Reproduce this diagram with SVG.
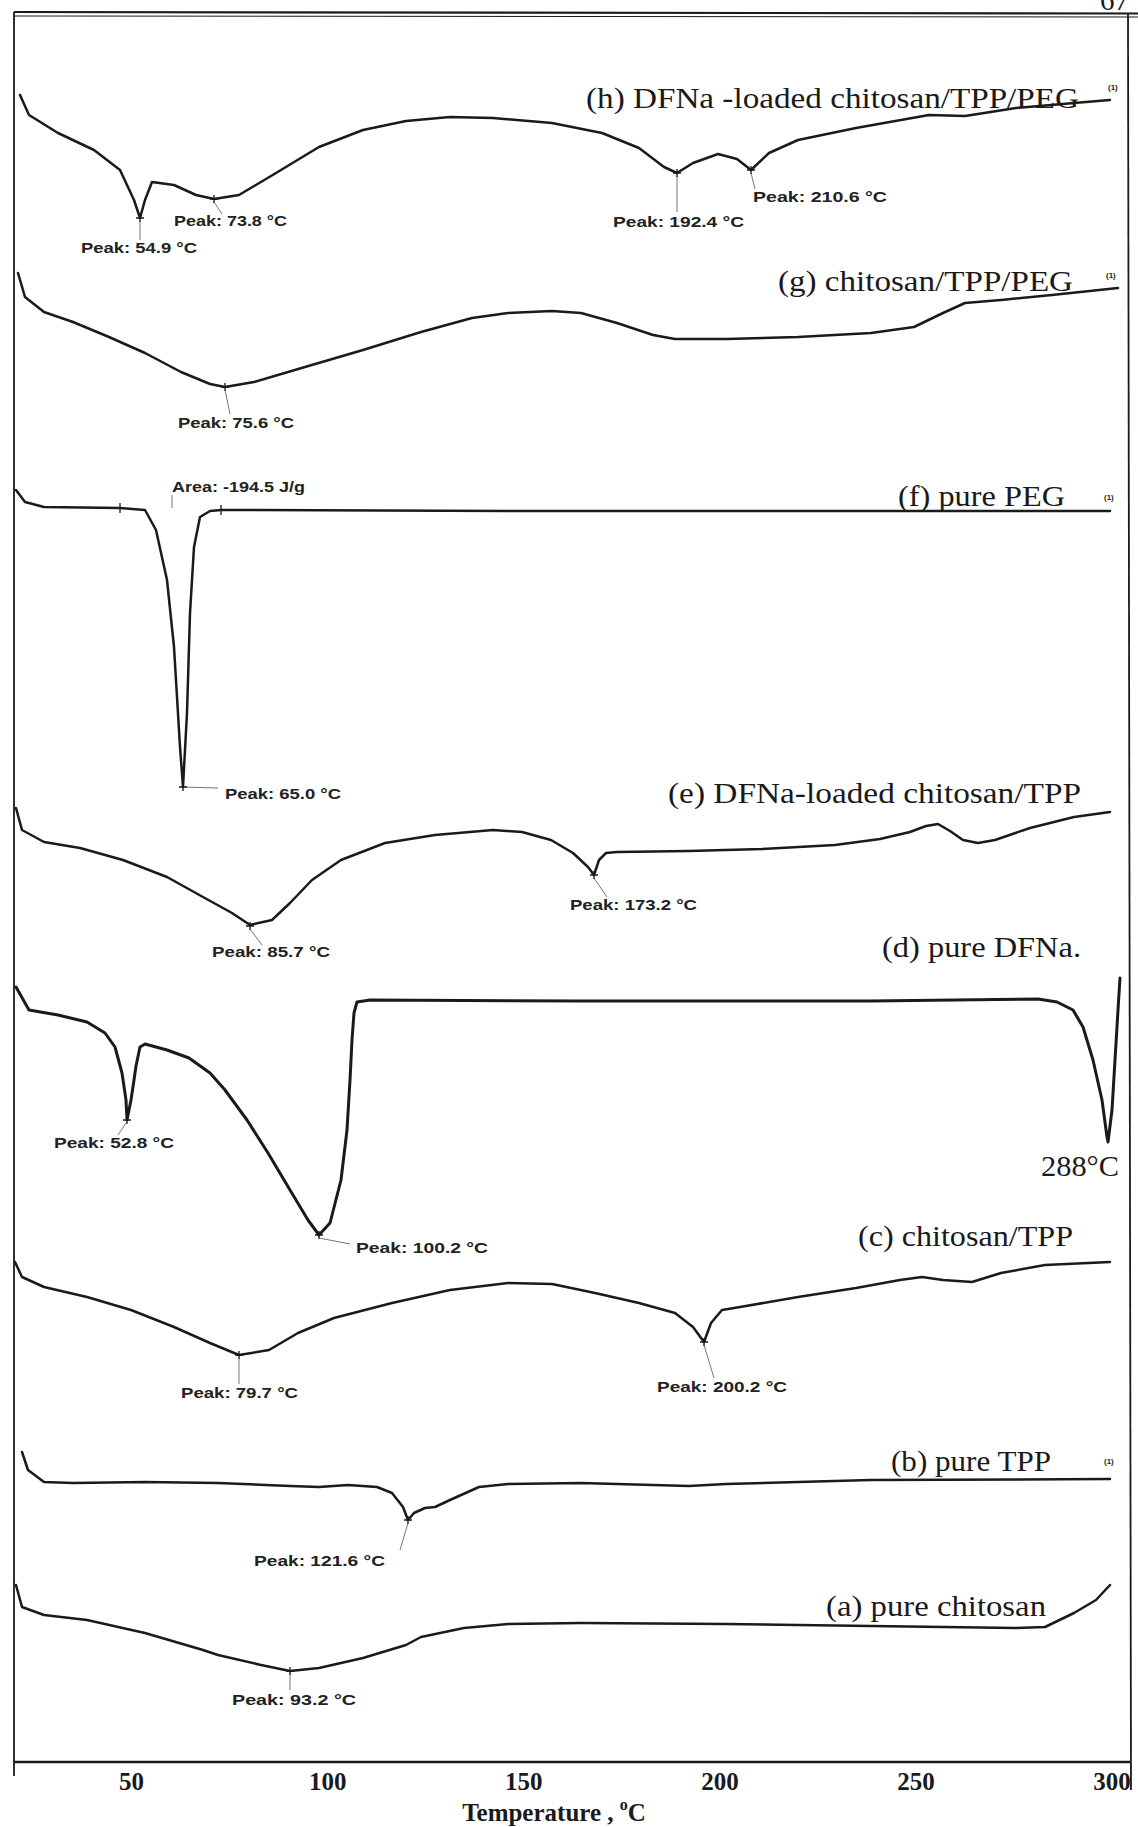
<svg xmlns="http://www.w3.org/2000/svg" width="1138" height="1827" viewBox="0 0 1138 1827">
<style>
.curve{fill:none;stroke:#1a1a1a;stroke-width:2.5;stroke-linejoin:round;stroke-linecap:round}
.thick{stroke-width:3}
.frame{stroke:#1a1a1a;fill:none}
.lead{stroke:#666;stroke-width:0.9;fill:none}
.mk{stroke:#1a1a1a;stroke-width:1.3;fill:none}
.pk{font-family:"Liberation Sans",Arial,sans-serif;font-weight:bold;font-size:14.5px;fill:#222}
.lab{font-family:"Liberation Serif","Times New Roman",serif;font-size:29px;fill:#1a1a1a}
.one{font-family:"Liberation Sans",Arial,sans-serif;font-weight:bold;font-size:8px;fill:#222}
.ax{font-family:"Liberation Serif","Times New Roman",serif;font-weight:bold;font-size:25px;fill:#1a1a1a}
</style>
<rect width="1138" height="1827" fill="#ffffff"/>
<text x="1100" y="10" class="lab" font-size="30">67</text>
<g id="frame">
<line class="frame" x1="14" y1="12" x2="1138" y2="13.5" stroke-width="2.2"/>
<line class="frame" x1="14" y1="16" x2="1138" y2="17" stroke-width="1"/>
<line class="frame" x1="14" y1="12" x2="14" y2="1776" stroke-width="1.8"/>
<line class="frame" x1="1128" y1="13" x2="1131" y2="1790" stroke-width="1.8"/>
<line class="frame" x1="14" y1="1762" x2="1131" y2="1762" stroke-width="2.6"/>
</g>
<g id="axis-labels">
<text class="ax" x="131.6" y="1790" text-anchor="middle">50</text>
<text class="ax" x="327.7" y="1790" text-anchor="middle">100</text>
<text class="ax" x="523.8" y="1790" text-anchor="middle">150</text>
<text class="ax" x="719.9" y="1790" text-anchor="middle">200</text>
<text class="ax" x="916" y="1790" text-anchor="middle">250</text>
<text class="ax" x="1112" y="1790" text-anchor="middle">300</text>
<text class="ax" x="554" y="1821" text-anchor="middle" font-size="27">Temperature , <tspan font-size="16" dy="-11">o</tspan><tspan dy="11">C</tspan></text>
</g>
<g id="connectors">
<line class="lead" x1="140" y1="221" x2="140" y2="240"/>
<line class="lead" x1="214" y1="202" x2="222" y2="214"/>
<line class="lead" x1="677" y1="176" x2="677" y2="212"/>
<line class="lead" x1="751" y1="173" x2="755" y2="189"/>
<line class="lead" x1="225" y1="390" x2="230" y2="414"/>
<line class="lead" x1="172" y1="495" x2="172" y2="508"/>
<line class="lead" x1="183" y1="787" x2="218" y2="788"/>
<line class="lead" x1="250" y1="929" x2="262" y2="945"/>
<line class="lead" x1="594" y1="878" x2="607" y2="897"/>
<line class="lead" x1="126" y1="1123" x2="118" y2="1135"/>
<line class="lead" x1="319" y1="1238" x2="350" y2="1244"/>
<line class="lead" x1="239" y1="1358" x2="239" y2="1384"/>
<line class="lead" x1="704" y1="1345" x2="714" y2="1378"/>
<line class="lead" x1="408" y1="1523" x2="400" y2="1550"/>
<line class="lead" x1="290" y1="1674" x2="290" y2="1690"/>
</g>
<g id="curve-h">
<path class="curve" d="M20,95 L29,115 L58,133 L94,150 L120,170 L134,200 L140,218 L145,200 L152,182 L174,185 L196,195 L214,199 L239,195 L276,173 L319,147 L363,130 L406,121 L450,117 L493,118 L552,123 L602,133 L639,148 L664,167 L677,173 L693,163 L718,154 L737,159 L751,170 L769,153 L798,140 L856,128 L929,115 L965,116 L1016,108 L1074,103 L1110,100"/>
<path class="mk" d="M136,218h8M140,214v8 M210,199h8M214,195v8 M673,173h8M677,169v8 M747,170h8M751,166v8"/>
<text class="pk" x="81" y="253" textLength="116" lengthAdjust="spacingAndGlyphs">Peak: 54.9 °C</text>
<text class="pk" x="174" y="226" textLength="113" lengthAdjust="spacingAndGlyphs">Peak: 73.8 °C</text>
<text class="pk" x="613" y="227" textLength="131" lengthAdjust="spacingAndGlyphs">Peak: 192.4 °C</text>
<text class="pk" x="753" y="202" textLength="134" lengthAdjust="spacingAndGlyphs">Peak: 210.6 °C</text>
<text class="lab" x="586" y="108" textLength="493" lengthAdjust="spacingAndGlyphs">(h) DFNa -loaded chitosan/TPP/PEG</text>
<text class="one" x="1108" y="90">(1)</text>
</g>
<g id="curve-g">
<path class="curve" d="M18,273 L25,297 L44,312 L73,322 L109,337 L145,353 L181,372 L210,384 L225,387 L254,382 L305,367 L363,350 L421,332 L472,318 L508,313 L552,311 L581,313 L617,323 L653,335 L675,339 L726,339 L798,337 L871,333 L914,327 L943,313 L965,303 L1001,300 L1052,295 L1118,288"/>
<path class="mk" d="M221,387h8M225,383v8"/>
<text class="pk" x="178" y="428" textLength="116" lengthAdjust="spacingAndGlyphs">Peak: 75.6 °C</text>
<text class="lab" x="778" y="291" textLength="295" lengthAdjust="spacingAndGlyphs">(g) chitosan/TPP/PEG</text>
<text class="one" x="1106" y="278">(1)</text>
</g>
<g id="curve-f">
<path class="curve" d="M16,490 L25,502 L44,507 L120,508 L145,510 L156,530 L167,580 L174,647 L180,747 L183,787 L187,713 L190,613 L194,547 L200,517 L210,511 L221,510 L508,511 L798,511 L1110,511"/>
<path class="mk" d="M120,503v10 M221,505v10 M179,787h8M183,783v8"/>
<text class="pk" x="172" y="492" textLength="133" lengthAdjust="spacingAndGlyphs">Area: -194.5 J/g</text>
<text class="pk" x="225" y="799" textLength="116" lengthAdjust="spacingAndGlyphs">Peak: 65.0 °C</text>
<text class="lab" x="898" y="506" textLength="167" lengthAdjust="spacingAndGlyphs">(f) pure PEG</text>
<text class="one" x="1104" y="500">(1)</text>
</g>
<g id="curve-e">
<path class="curve" d="M16,808 L22,830 L44,842 L80,848 L123,860 L167,877 L203,897 L232,913 L250,925 L272,920 L290,903 L312,880 L341,860 L385,843 L435,835 L493,830 L522,832 L551,840 L573,853 L588,867 L594,875 L599,860 L606,853 L617,852 L689,851 L762,849 L835,845 L880,839 L910,832 L926,826 L938,824 L950,831 L963,840 L978,843 L995,840 L1030,828 L1074,817 L1110,812"/>
<path class="mk" d="M246,926h8M250,922v8 M590,875h8M594,871v8"/>
<text class="pk" x="212" y="957" textLength="118" lengthAdjust="spacingAndGlyphs">Peak: 85.7 °C</text>
<text class="pk" x="570" y="910" textLength="127" lengthAdjust="spacingAndGlyphs">Peak: 173.2 °C</text>
<text class="lab" x="668" y="803" textLength="413" lengthAdjust="spacingAndGlyphs">(e) DFNa-loaded chitosan/TPP</text>
</g>
<g id="curve-d">
<path class="curve thick" d="M16,987 L29,1010 L58,1015 L87,1022 L105,1033 L115,1047 L122,1073 L126,1100 L127,1120 L131,1100 L134,1080 L136,1066 L140,1047 L145,1044 L167,1050 L189,1058 L210,1073 L225,1090 L247,1120 L268,1153 L290,1190 L308,1220 L319,1235 L330,1223 L341,1180 L347,1130 L350,1080 L352,1040 L354,1013 L357,1002 L370,1000 L581,1001 L871,1001 L1038,999 L1057,1002 L1073,1010 L1083,1027 L1093,1060 L1102,1100 L1107,1137 L1108,1142 L1112,1110 L1115,1060 L1118,1010 L1120,978"/>
<path class="mk" d="M123,1120h8M127,1116v8 M315,1235h8M319,1231v8"/>
<text class="pk" x="54" y="1148" textLength="120" lengthAdjust="spacingAndGlyphs">Peak: 52.8 °C</text>
<text class="pk" x="356" y="1253" textLength="132" lengthAdjust="spacingAndGlyphs">Peak: 100.2 °C</text>
<text class="lab" x="1041" y="1176" textLength="78" lengthAdjust="spacingAndGlyphs">288°C</text>
<text class="lab" x="882" y="957" textLength="199" lengthAdjust="spacingAndGlyphs">(d) pure DFNa.</text>
</g>
<g id="curve-c">
<path class="curve" d="M15,1262 L22,1277 L44,1287 L87,1297 L131,1310 L174,1327 L210,1343 L239,1355 L269,1350 L298,1333 L334,1318 L392,1303 L450,1290 L508,1283 L552,1284 L595,1293 L639,1303 L675,1313 L693,1327 L704,1342 L711,1323 L722,1310 L740,1307 L798,1297 L856,1288 L900,1280 L922,1277 L943,1280 L972,1282 L1001,1273 L1045,1265 L1110,1262"/>
<path class="mk" d="M235,1355h8M239,1351v8 M700,1342h8M704,1338v8"/>
<text class="pk" x="181" y="1398" textLength="117" lengthAdjust="spacingAndGlyphs">Peak: 79.7 °C</text>
<text class="pk" x="657" y="1392" textLength="130" lengthAdjust="spacingAndGlyphs">Peak: 200.2 °C</text>
<text class="lab" x="858" y="1246" textLength="215" lengthAdjust="spacingAndGlyphs">(c) chitosan/TPP</text>
</g>
<g id="curve-b">
<path class="curve" d="M22,1452 L28,1470 L44,1482 L73,1483 L145,1482 L218,1483 L290,1486 L319,1487 L348,1485 L377,1487 L392,1493 L403,1507 L408,1520 L414,1513 L425,1508 L435,1507 L450,1500 L479,1487 L508,1484 L581,1483 L689,1486 L726,1484 L871,1480 L1110,1479"/>
<path class="mk" d="M404,1520h8M408,1516v8"/>
<text class="pk" x="254" y="1566" textLength="131" lengthAdjust="spacingAndGlyphs">Peak: 121.6 °C</text>
<text class="lab" x="891" y="1471" textLength="160" lengthAdjust="spacingAndGlyphs">(b) pure TPP</text>
<text class="one" x="1104" y="1464">(1)</text>
</g>
<g id="curve-a">
<path class="curve" d="M16,1585 L22,1607 L44,1615 L87,1620 L145,1633 L203,1650 L218,1655 L261,1665 L290,1671 L319,1668 L363,1658 L406,1645 L421,1637 L464,1628 L508,1624 L581,1623 L726,1624 L871,1626 L1016,1628 L1045,1627 L1074,1613 L1096,1600 L1110,1585"/>
<path class="mk" d="M286,1671h8M290,1667v8"/>
<text class="pk" x="232" y="1705" textLength="124" lengthAdjust="spacingAndGlyphs">Peak: 93.2 °C</text>
<text class="lab" x="826" y="1616" textLength="220" lengthAdjust="spacingAndGlyphs">(a) pure chitosan</text>
</g>
</svg>
